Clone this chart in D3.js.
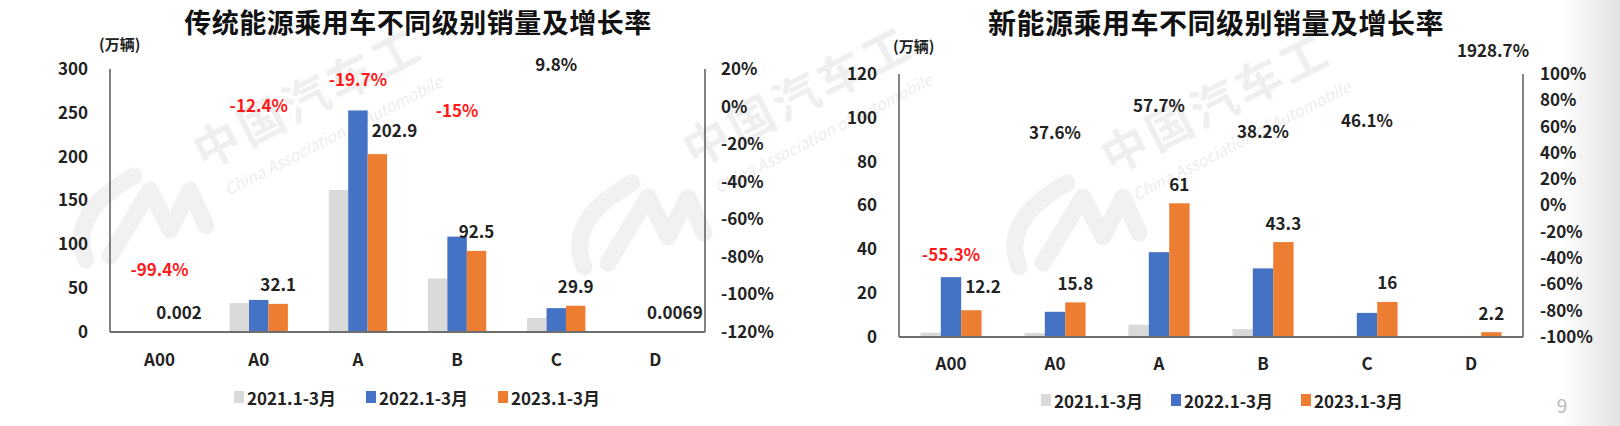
<!DOCTYPE html>
<html>
<head>
<meta charset="utf-8">
<script src="https://cdn.jsdelivr.net/npm/d3@7"></script>
<style>
  html, body { margin: 0; padding: 0; background: #fff; }
  svg { display: block; }
  text { font-family: "Noto Sans CJK SC", "Noto Sans", sans-serif; }
</style>
</head>
<body>
<svg id="chart" width="1620" height="426"></svg>
<script>
// ---------- data ----------
const categories = ["A00", "A0", "A", "B", "C", "D"];
const seriesNames = ["2021.1-3月", "2022.1-3月", "2023.1-3月"];
const seriesColors = ["#d9d9d9", "#4472c4", "#ed7d31"];

// 传统能源乘用车 (万辆)
const iceSales2021 = [0.5, 33, 162, 61, 16, 0.05];
const iceSales2022 = [0.33, 36.6, 252.7, 108.8, 27.2, 0.01];
const iceSales2023 = [0.002, 32.1, 202.9, 92.5, 29.9, 0.0069];
const iceGrowth = [-99.4, -12.4, -19.7, -15, 9.8, null];
const iceLeftTicks = [0, 50, 100, 150, 200, 250, 300];
const iceRightTicks = [20, 0, -20, -40, -60, -80, -100, -120];

// 新能源乘用车 (万辆)
const nevSales2021 = [2.0, 1.8, 5.6, 3.6, 0.5, 0.2];
const nevSales2022 = [27.3, 11.5, 38.7, 31.3, 11.0, 0.11];
const nevSales2023 = [12.2, 15.8, 61, 43.3, 16, 2.2];
const nevGrowth = [-55.3, 37.6, 57.7, 38.2, 46.1, 1928.7];
const nevLeftTicks = [0, 20, 40, 60, 80, 100, 120];
const nevRightTicks = [100, 80, 60, 40, 20, 0, -20, -40, -60, -80, -100];

const titles = ["传统能源乘用车不同级别销量及增长率", "新能源乘用车不同级别销量及增长率"];
const unitLabel = "(万辆)";

// ---------- drawing ----------
const svg = d3.select("#chart");
const FONT = 17;

// background shadow strip on right edge
const defs = svg.append("defs");
const grad = defs.append("linearGradient").attr("id", "edge").attr("x1", "0").attr("x2", "1");
grad.append("stop").attr("offset", "0").attr("stop-color", "#ffffff");
grad.append("stop").attr("offset", "1").attr("stop-color", "#e2e2e2");
svg.append("rect").attr("x", 1560).attr("y", 0).attr("width", 60).attr("height", 426).attr("fill", "url(#edge)");

// watermark (very faint)
const wm = svg.append("g").attr("pointer-events", "none");
function watermark(x, y) {
  const g = wm.append("g").attr("transform", `translate(${x},${y}) rotate(-27)`);
  g.append("text").text("中国汽车工").attr("font-size", 46).attr("font-weight", 700)
    .attr("letter-spacing", 4).attr("fill", "#000").attr("opacity", 0.06);
  g.append("text").text("China Association of Automobile").attr("y", 34).attr("x", 10)
    .attr("font-size", 16).attr("font-style", "italic").attr("fill", "#000").attr("opacity", 0.07);
}
function logo(x, y) {
  const g = wm.append("g").attr("transform", `translate(${x},${y})`)
    .attr("fill", "none").attr("stroke", "#000").attr("stroke-opacity", 0.055)
    .attr("stroke-width", 17).attr("stroke-linecap", "round").attr("stroke-linejoin", "round");
  const c = d3.path();
  c.moveTo(62, 8); c.quadraticCurveTo(-5, 45, 14, 92);
  g.append("path").attr("d", c.toString());
  const z = d3.path();
  z.moveTo(38, 88); z.lineTo(78, 22); z.lineTo(98, 62); z.lineTo(118, 22); z.lineTo(134, 58);
  g.append("path").attr("d", z.toString());
}
watermark(204, 170);
watermark(694, 168);
watermark(1112, 175);
logo(72, 168);
logo(570, 175);
logo(1005, 175);

function drawChart(cfg) {
  const g = svg.append("g");
  const x = d3.scaleBand().domain(categories).range([cfg.x0, cfg.x1]).padding(0);
  const y = d3.scaleLinear().domain(cfg.leftDomain).range([cfg.yBot, cfg.yTop]);
  const y2 = d3.scaleLinear().domain(cfg.rightDomain).range([cfg.yBot, cfg.yTop]);
  const barW = x.bandwidth() * 0.196;
  const series = [cfg.s2021, cfg.s2022, cfg.s2023];

  // title
  g.append("text").attr("x", cfg.titleX).attr("y", cfg.titleY)
    .attr("text-anchor", "middle").attr("font-size", cfg.titleSize).attr("font-weight", 700)
    .attr("letter-spacing", cfg.titleSpacing).attr("fill", "#111").text(cfg.title);

  // unit
  g.append("text").attr("x", cfg.unitX).attr("y", cfg.unitY)
    .attr("font-size", 15).attr("font-weight", 700).attr("fill", "#222").text(unitLabel);

  // bars
  series.forEach((vals, si) => {
    g.append("g").selectAll("rect").data(vals).join("rect")
      .attr("x", (d, i) => x(categories[i]) + x.bandwidth() / 2 + (si - 1.5) * barW)
      .attr("width", barW)
      .attr("y", d => y(d))
      .attr("height", d => Math.max(0, y(0) - y(d)))
      .attr("fill", seriesColors[si]);
  });

  // axes
  const axL = d3.axisLeft(y).tickValues(cfg.leftTicks).tickSize(0).tickPadding(0);
  const gl = g.append("g").attr("transform", `translate(${cfg.leftLabelX},0)`).call(axL);
  gl.select(".domain").remove();
  gl.selectAll("text").attr("font-size", FONT).attr("font-weight", 700).attr("fill", "#222")
    .attr("font-family", '"Noto Sans CJK SC", "Noto Sans", sans-serif');

  const axR = d3.axisRight(y2).tickValues(cfg.rightTicks).tickSize(0).tickPadding(0)
    .tickFormat(d => d + "%");
  const gr = g.append("g").attr("transform", `translate(${cfg.rightLabelX},0)`).call(axR);
  gr.select(".domain").remove();
  gr.selectAll("text").attr("font-size", FONT).attr("font-weight", 700).attr("fill", "#222")
    .attr("text-anchor", cfg.rightAnchor)
    .attr("font-family", '"Noto Sans CJK SC", "Noto Sans", sans-serif');

  // frame lines: left, right, bottom
  const lineCol = "#5a5a5a";
  g.append("line").attr("x1", cfg.x0).attr("x2", cfg.x0).attr("y1", y.range()[1]).attr("y2", y.range()[0])
    .attr("stroke", lineCol).attr("stroke-width", 1.5);
  g.append("line").attr("x1", cfg.x1).attr("x2", cfg.x1).attr("y1", y.range()[1]).attr("y2", y.range()[0])
    .attr("stroke", lineCol).attr("stroke-width", 1.5);
  g.append("line").attr("x1", cfg.x0).attr("x2", cfg.x1).attr("y1", y(0)).attr("y2", y(0))
    .attr("stroke", "#6e6e6e").attr("stroke-width", 2);

  // category labels
  g.append("g").selectAll("text").data(categories).join("text")
    .attr("x", d => x(d) + x.bandwidth() / 2).attr("y", cfg.catY)
    .attr("text-anchor", "middle").attr("dominant-baseline", "central")
    .attr("font-size", FONT).attr("font-weight", 700).attr("fill", "#222").text(d => d);

  // value labels for 2023
  cfg.s2023.forEach((v, i) => {
    const cx = x(categories[i]) + x.bandwidth() / 2;
    const orangeX = cx + 0.5 * barW + barW / 2;
    const blueRight = cx + 0.5 * barW;
    let ly = y(v) - 20;
    const label = String(v);
    const t = g.append("text").attr("y", ly).attr("dominant-baseline", "central")
      .attr("font-size", FONT).attr("font-weight", 700).attr("fill", "#222").text(label);
    const blueTop = y(cfg.s2022[i]);
    if (blueTop < ly) {
      t.attr("x", blueRight + 4).attr("text-anchor", "start").attr("y", y(v) - 25);
    } else {
      t.attr("x", orangeX).attr("text-anchor", "middle");
    }
  });

  // growth labels (secondary axis)
  const top2 = cfg.rightDomain[1];
  cfg.growth.forEach((r, i) => {
    if (r === null) return;
    const cx = x(categories[i]) + x.bandwidth() / 2;
    let ly = y2(Math.min(r, top2)) - 25;
    const barTop = d3.min(series, s => y(s[i]));
    if (barTop < ly + 10) ly = barTop - 32;
    g.append("text").attr("x", cx + (r > top2 ? cfg.overflowShift : 0)).attr("y", ly)
      .attr("text-anchor", "middle").attr("dominant-baseline", "central")
      .attr("font-size", FONT).attr("font-weight", 700)
      .attr("fill", r < 0 ? "#ff1a1a" : "#222").text(r + "%");
  });

  // legend
  const lg = g.append("g").attr("transform", `translate(${cfg.legendX},${cfg.legendY})`);
  seriesNames.forEach((name, si) => {
    const it = lg.append("g").attr("transform", `translate(${si * cfg.legendStep},0)`);
    it.append("rect").attr("x", 0).attr("y", -6).attr("width", 10).attr("height", 12).attr("fill", seriesColors[si]);
    it.append("text").attr("x", 13).attr("y", 0).attr("dominant-baseline", "central")
      .attr("font-size", FONT).attr("font-weight", 700).attr("fill", "#222").text(name);
  });
}

drawChart({
  title: titles[0], titleX: 418, titleY: 33, titleSize: 27, titleSpacing: 0.5,
  unitX: 99, unitY: 50,
  x0: 110, x1: 705, yTop: 69, yBot: 332,
  leftDomain: [0, 300], rightDomain: [-120, 20],
  leftTicks: iceLeftTicks, rightTicks: iceRightTicks,
  leftLabelX: 88, rightLabelX: 721, rightAnchor: "start",
  s2021: iceSales2021, s2022: iceSales2022, s2023: iceSales2023, growth: iceGrowth,
  catY: 358, legendX: 234, legendY: 397, legendStep: 132, overflowShift: 0
});

drawChart({
  title: titles[1], titleX: 1216, titleY: 34, titleSize: 28, titleSpacing: 0.5,
  unitX: 893, unitY: 52,
  x0: 899, x1: 1523, yTop: 74, yBot: 337,
  leftDomain: [0, 120], rightDomain: [-100, 100],
  leftTicks: nevLeftTicks, rightTicks: nevRightTicks,
  leftLabelX: 877, rightLabelX: 1540, rightAnchor: "start",
  s2021: nevSales2021, s2022: nevSales2022, s2023: nevSales2023, growth: nevGrowth,
  catY: 362, legendX: 1041, legendY: 400, legendStep: 130, overflowShift: 22
});

// page number
svg.append("text").attr("x", 1562).attr("y", 404).attr("text-anchor", "middle")
  .attr("dominant-baseline", "central").attr("font-size", 19).attr("fill", "#b8b8b8")
  .attr("font-family", "Lato, sans-serif").text("9");
</script>
</body>
</html>
